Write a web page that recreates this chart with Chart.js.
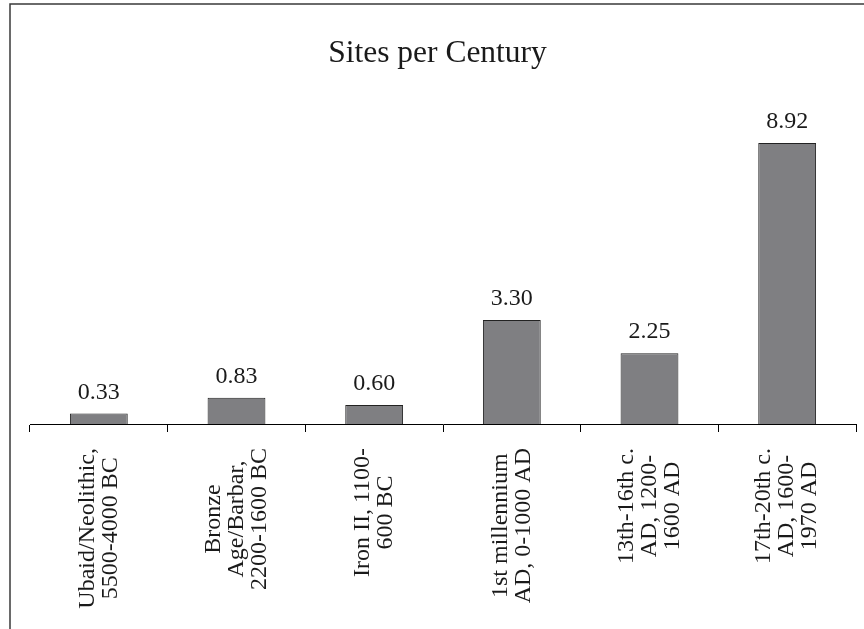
<!DOCTYPE html>
<html>
<head>
<meta charset="utf-8">
<script src="https://cdn.jsdelivr.net/npm/chart.js@4"></script>
<style>
  html, body { margin: 0; padding: 0; background: #fff; }
</style>
</head>
<body>
<canvas id="sitesChart" width="864" height="629"></canvas>
<script>
let periodLabels = [
    ["Ubaid/Neolithic,", "5500-4000 BC"],
    ["Bronze", "Age/Barbar,", "2200-1600 BC"],
    ["Iron II, 1100-", "600 BC"],
    ["1st millennium", "AD, 0-1000 AD"],
    ["13th-16th c.", "AD, 1200-", "1600 AD"],
    ["17th-20th c.", "AD, 1600-", "1970 AD"]
];
let sitesPerCentury = [0.33, 0.83, 0.60, 3.30, 2.25, 8.92];
let chartTitle = "Sites per Century";

const serif = "'Liberation Serif', 'Times New Roman', serif";

// frame, title, value labels and the rotated category names
const sitesDecor = {
    id: "sitesDecor",
    afterDraw(chart) {
        const ctx = chart.ctx;
        const xScale = chart.scales.x;
        ctx.save();

        ctx.strokeStyle = "#3a3a3a";
        ctx.lineWidth = 1.5;
        ctx.beginPath();
        ctx.moveTo(10, 700);
        ctx.lineTo(10, 4);
        ctx.lineTo(900, 4);
        ctx.stroke();

        ctx.fillStyle = "#1a1a1a";
        ctx.font = "31.5px " + serif;
        ctx.textAlign = "center";
        ctx.textBaseline = "alphabetic";
        ctx.fillText(chartTitle, 437.5, 62);

        ctx.font = "24px " + serif;
        chart.getDatasetMeta(0).data.forEach((bar, i) => {
            ctx.fillText(sitesPerCentury[i].toFixed(2), bar.x, bar.y - 15);
        });

        periodLabels.forEach((lines, i) => {
            const x = xScale.getPixelForValue(i);
            const widest = Math.max(...lines.map(l => ctx.measureText(l).width));
            ctx.save();
            ctx.translate(x, 448);
            ctx.rotate(-Math.PI / 2);
            ctx.textBaseline = "middle";
            lines.forEach((line, k) => {
                ctx.fillText(line, -widest / 2, (k - (lines.length - 1) / 2) * 23);
            });
            ctx.restore();
        });

        ctx.restore();
    }
};

let ctx = document.getElementById("sitesChart").getContext("2d");
new Chart(ctx, {
    type: "bar",
    data: {
        labels: periodLabels,
        datasets: [{
            label: chartTitle,
            data: sitesPerCentury,
            backgroundColor: "#7f7f82",
            borderColor: "#222222",
            borderWidth: 1,
            categoryPercentage: 1,
            barPercentage: 0.42
        }]
    },
    options: {
        responsive: false,
        animation: false,
        devicePixelRatio: 1,
        layout: { padding: { top: 109, left: 30, right: 8, bottom: 0 } },
        plugins: {
            legend: { display: false },
            tooltip: { enabled: false },
            title: { display: false }
        },
        scales: {
            x: {
                ticks: { display: false },
                grid: {
                    display: true,
                    drawOnChartArea: false,
                    drawTicks: true,
                    tickLength: 8,
                    color: "#000000",
                    offset: true
                },
                border: { display: true, color: "#000000", width: 1 },
                afterFit(scale) {
                    scale.height = 205;
                }
            },
            y: {
                display: false,
                min: 0,
                max: 10
            }
        }
    },
    plugins: [sitesDecor]
});
</script>
</body>
</html>
